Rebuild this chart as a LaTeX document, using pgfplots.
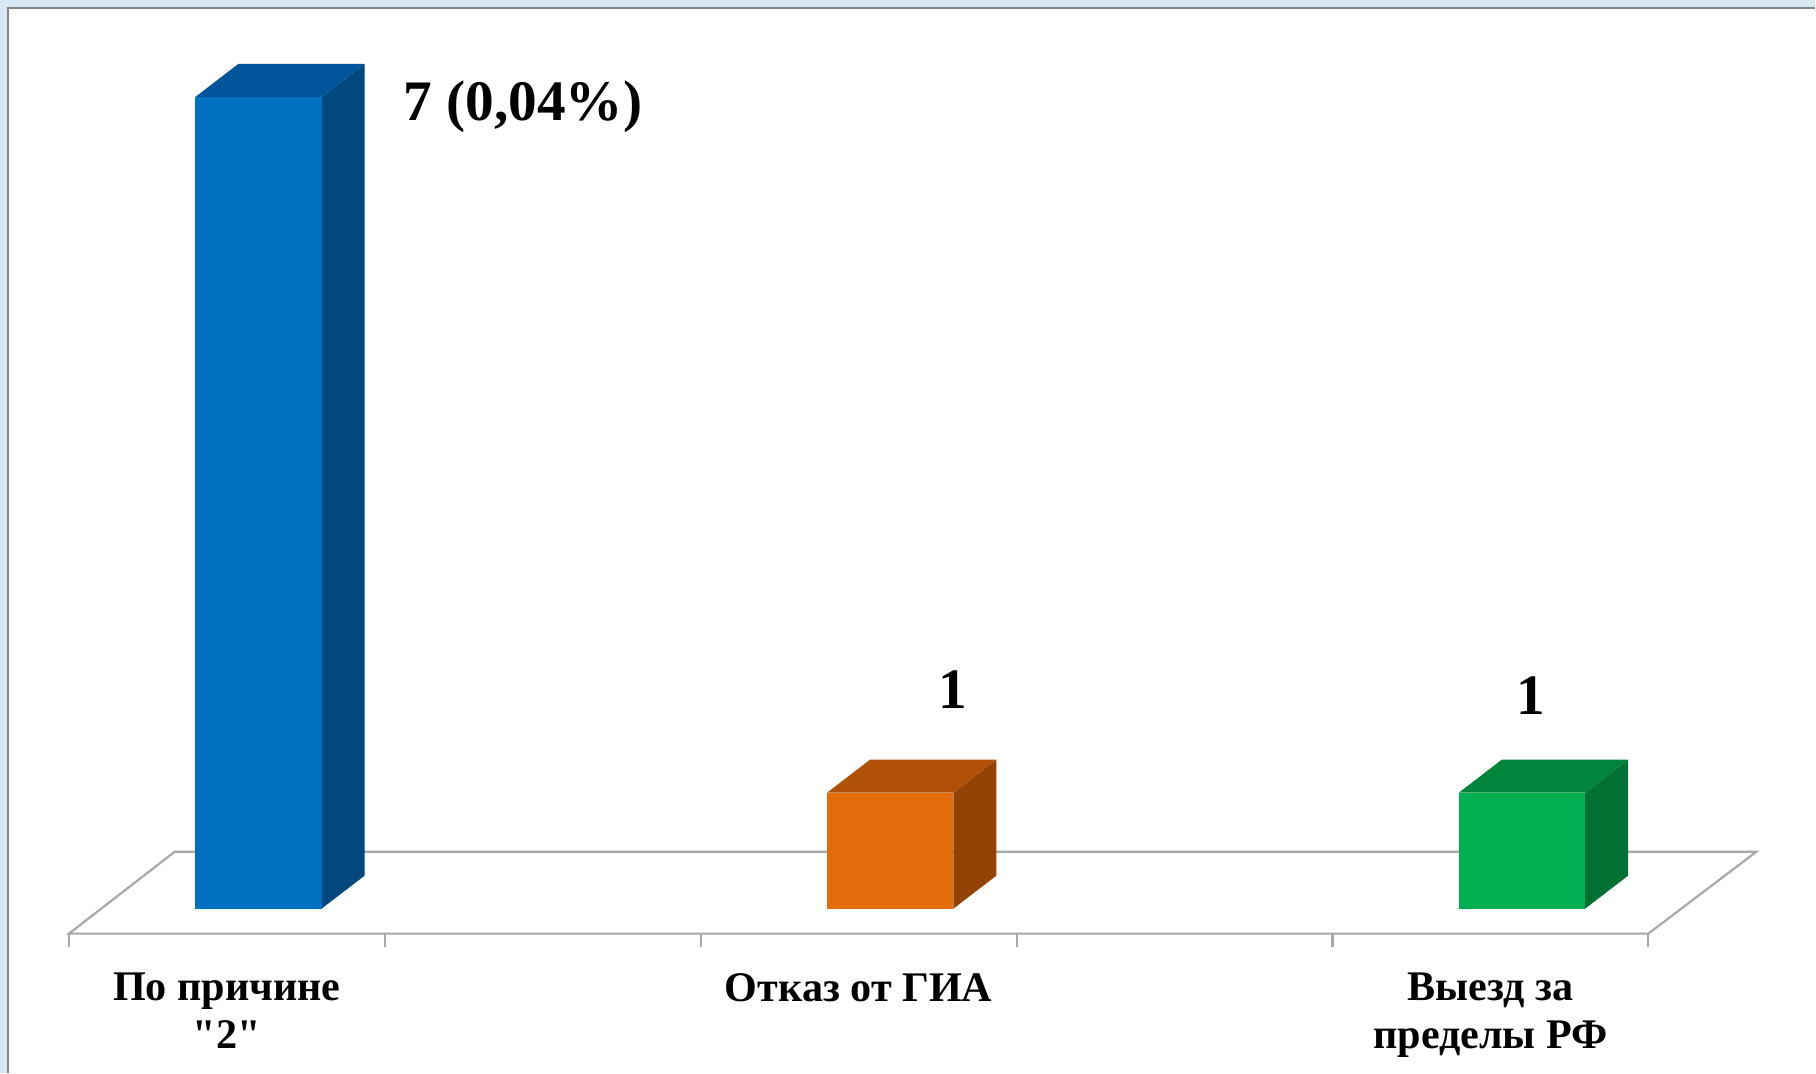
\documentclass[border=0pt]{standalone}
\usepackage{fontspec}
\setmainfont{Liberation Serif}[Ligatures=TeXOff]
\usepackage{pgfplots}
\pgfplotsset{compat=1.18}

\definecolor{bluefront}{HTML}{0070C0}
\definecolor{bluetop}{HTML}{00559A}
\definecolor{blueside}{HTML}{00487E}
\definecolor{orangefront}{HTML}{E46C0A}
\definecolor{orangetop}{HTML}{B05107}
\definecolor{orangeside}{HTML}{924305}
\definecolor{greenfront}{HTML}{00B050}
\definecolor{greentop}{HTML}{00853D}
\definecolor{greenside}{HTML}{007033}
\definecolor{floorgray}{HTML}{A8A8A8}
\definecolor{framegray}{HTML}{858585}
\definecolor{slideblue}{HTML}{D7E7F3}

% one 3D column: #1 left edge of the front face, #2 value, #3 colour family
\newcommand\cube[3]{%
  \pgfmathsetmacro\xa{#1}%
  \pgfmathsetmacro\xb{#1+0.4}%
  \pgfmathsetmacro\xc{#1+0.136}%
  \pgfmathsetmacro\xd{#1+0.536}%
  \pgfmathsetmacro\ya{#2}%
  \pgfmathsetmacro\yb{#2+0.2845}%
  \edef\doplots{%
    \noexpand\addplot[fill=#3side,draw=none] coordinates {(\xb,0) (\xb,\ya) (\xd,\yb) (\xd,0.2845)} -- cycle;
    \noexpand\addplot[fill=#3top,draw=none] coordinates {(\xa,\ya) (\xc,\yb) (\xd,\yb) (\xb,\ya)} -- cycle;
    \noexpand\addplot[fill=#3front,draw=none] coordinates {(\xa,0) (\xa,\ya) (\xb,\ya) (\xb,0)} -- cycle;
  }\doplots
}

\tikzset{catlabel/.style={anchor=north, inner sep=0, align=center,
  font=\fontsize{12}{13.6}\selectfont\bfseries},
  vallabel/.style={inner sep=0, font=\fontsize{16.3}{19}\selectfont\bfseries}}

\begin{document}
\begin{tikzpicture}
% slide background and frame
\fill[slideblue] (0,0) rectangle (181.6mm,107.3mm);
\fill[white] (0.8mm,0) rectangle (181.6mm,106.5mm);
\draw[framegray, line width=0.15mm] (0.8mm,0) -- (0.8mm,106.5mm) -- (181.6mm,106.5mm);

\begin{axis}[
at={(0,0)}, anchor=south west,
scale only axis,
width=181.6mm, height=107.3mm,
xmin=-0.21835, xmax=5.52848,
ymin=-1.41379, ymax=7.83621,
hide axis,
clip=false
]

% floor of the 3D chart
\addplot[floorgray, line width=0.22mm] coordinates {
(0,-0.2155) (5,-0.2155) (5.342,0.491) (0.335,0.491)} -- cycle;
\pgfplotsinvokeforeach{0,...,5}{
  \addplot[floorgray, line width=0.22mm] coordinates {(#1,-0.2155) (#1,-0.328)};
}

% columns
\cube{0.4}{7}{blue}
\cube{2.4}{1}{orange}
\cube{4.4}{1}{green}

% value labels
\node[vallabel, anchor=base west] at (axis cs:1.057,6.793) {7 (0,04\%)};
\node[vallabel, anchor=base] at (axis cs:2.7975,1.724) {1};
\node[vallabel, anchor=base] at (axis cs:4.627,1.672) {1};

% category labels
\node[catlabel] at (axis cs:0.5,-0.5517) {По причине\\"2"};
\node[catlabel] at (axis cs:2.5,-0.5517) {Отказ от ГИА};
\node[catlabel] at (axis cs:4.5,-0.5517) {Выезд за\\пределы РФ};
\end{axis}
\end{tikzpicture}
\end{document}
